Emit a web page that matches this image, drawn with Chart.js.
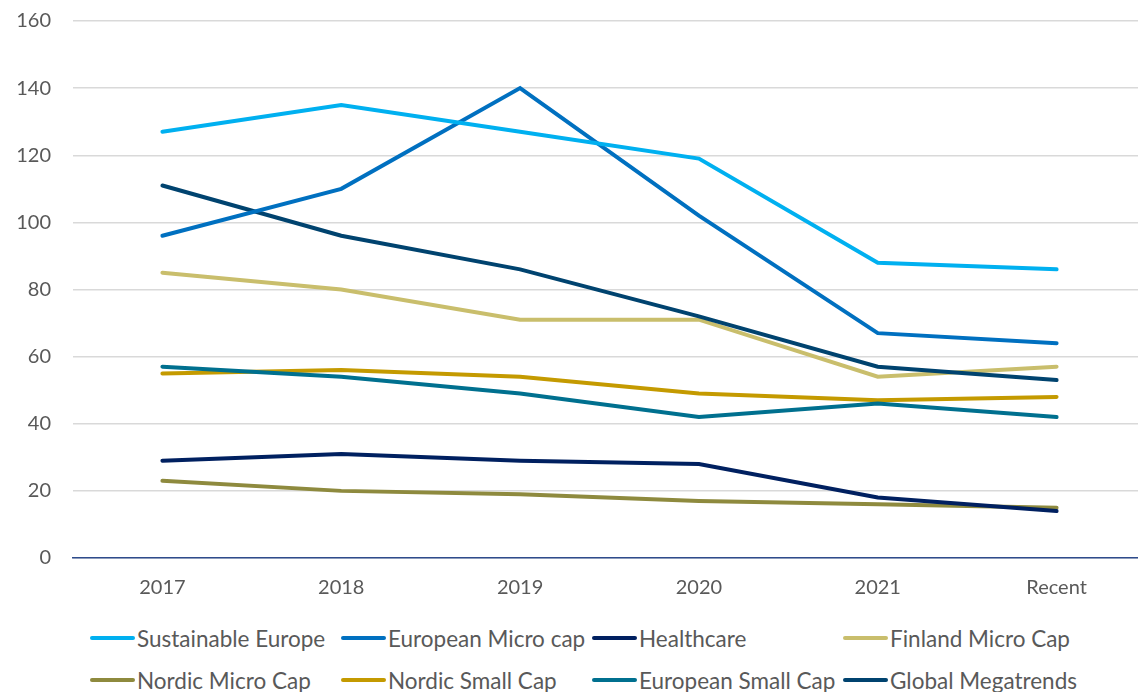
<!DOCTYPE html>
<html>
<head>
<meta charset="utf-8">
<script src="https://cdn.jsdelivr.net/npm/chart.js@4"></script>
<style>
  html, body { margin: 0; padding: 0; background: #ffffff; overflow: hidden; }
  #wrap { width: 1146px; height: 610px; position: relative; }
  #legend {
    position: absolute; left: 90px; top: 617px;
    font-family: Lato, "Open Sans", sans-serif; font-size: 22.5px; color: #595959;
  }
  .legend-row { display: grid; grid-template-columns: repeat(4, 251px); height: 42px; align-items: center; white-space: nowrap; }
  .legend-item { display: flex; align-items: center; }
  .legend-line { display: inline-block; width: 45px; height: 4px; border-radius: 2px; margin-right: 2px; }
</style>
</head>
<body>
<div id="wrap"><canvas id="chart"></canvas></div>
<div id="legend"></div>
<script>
// Categories (x axis)
const years = ['2017', '2018', '2019', '2020', '2021', 'Recent'];

// Series values
const sustainableEurope = [127, 135, 127, 119, 88, 86];
const europeanMicroCap  = [96, 110, 140, 102, 67, 64];
const healthcare        = [29, 31, 29, 28, 18, 14];
const finlandMicroCap   = [85, 80, 71, 71, 54, 57];
const nordicMicroCap    = [23, 20, 19, 17, 16, 15];
const nordicSmallCap    = [55, 56, 54, 49, 47, 48];
const europeanSmallCap  = [57, 54, 49, 42, 46, 42];
const globalMegatrends  = [111, 96, 86, 72, 57, 53];

// Series names and colours
const seriesNames = ['Sustainable Europe', 'European Micro cap', 'Healthcare', 'Finland Micro Cap',
                     'Nordic Micro Cap', 'Nordic Small Cap', 'European Small Cap', 'Global Megatrends'];
const seriesData = [sustainableEurope, europeanMicroCap, healthcare, finlandMicroCap,
                    nordicMicroCap, nordicSmallCap, europeanSmallCap, globalMegatrends];
const seriesColors = ['#00B0F0', '#0070C0', '#002060', '#C9BE6C',
                      '#8E8A3E', '#C49A00', '#00708F', '#00436F'];

// Draw order: later datasets on top (match the reference overlaps)
const drawOrder = [4, 2, 5, 6, 3, 7, 1, 0];

const datasets = seriesNames.map((name, i) => ({
    label: name,
    data: seriesData[i],
    borderColor: seriesColors[i],
    backgroundColor: seriesColors[i],
    borderWidth: 4,
    pointRadius: 0,
    tension: 0,
    fill: false,
    borderCapStyle: 'round',
    order: drawOrder.length - drawOrder.indexOf(i)
}));

const tickColor = '#595959';
const fontFamily = 'Lato, "Open Sans", sans-serif';

const chart = new Chart(document.getElementById('chart'), {
    type: 'line',
    data: { labels: years, datasets: datasets },
    options: {
        responsive: true,
        maintainAspectRatio: false,
        animation: false,
        layout: { padding: { left: 16, right: 0, top: 0, bottom: 0 } },
        plugins: {
            legend: { display: false },
            tooltip: { enabled: false }
        },
        scales: {
            x: {
                offset: true,
                afterFit(scale) { scale.height = 52; },
                grid: { display: false, drawTicks: false },
                border: { color: '#2E4C8C', width: 1.5 },
                ticks: { color: tickColor, font: { family: fontFamily, size: 20, lineHeight: 1 }, padding: 20 }
            },
            y: {
                min: 0,
                max: 160,
                afterFit(scale) {
                    scale.width = 57;
                    scale.paddingTop = 21;
                },
                border: { display: false },
                grid: { color: '#D9D9D9', lineWidth: 1.5, drawTicks: false },
                ticks: { stepSize: 20, color: tickColor, font: { family: fontFamily, size: 20 }, padding: 22 }
            }
        }
    }
});

// HTML legend, two rows of four like the original
function buildLegend() {
    const legend = document.getElementById('legend');
    const items = chart.options.plugins.legend.labels.generateLabels(chart)
        .sort((a, b) => a.datasetIndex - b.datasetIndex);
    for (let r = 0; r < 2; r++) {
        const row = document.createElement('div');
        row.className = 'legend-row';
        items.slice(r * 4, r * 4 + 4).forEach(item => {
            const el = document.createElement('div');
            el.className = 'legend-item';
            const line = document.createElement('span');
            line.className = 'legend-line';
            line.style.background = item.strokeStyle;
            el.appendChild(line);
            el.appendChild(document.createTextNode(item.text));
            row.appendChild(el);
        });
        legend.appendChild(row);
    }
}

buildLegend();
</script>
</body>
</html>
